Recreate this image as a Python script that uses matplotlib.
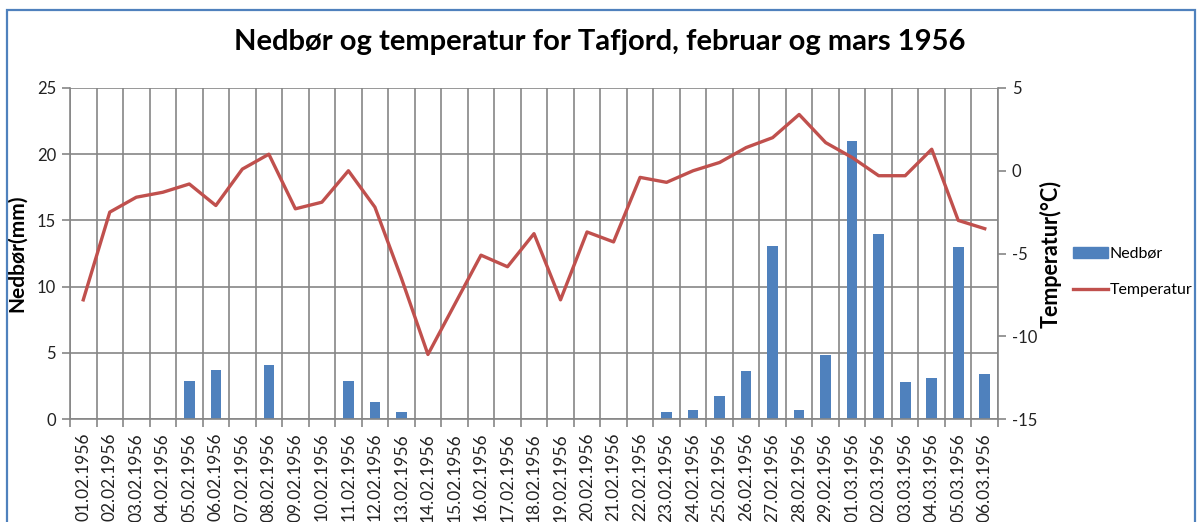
import matplotlib
matplotlib.use("Agg")
import matplotlib.pyplot as plt
import matplotlib.patches as mpatches
from matplotlib.lines import Line2D
import numpy as np

dates = ["01.02.1956", "02.02.1956", "03.02.1956", "04.02.1956", "05.02.1956",
         "06.02.1956", "07.02.1956", "08.02.1956", "09.02.1956", "10.02.1956",
         "11.02.1956", "12.02.1956", "13.02.1956", "14.02.1956", "15.02.1956",
         "16.02.1956", "17.02.1956", "18.02.1956", "19.02.1956", "20.02.1956",
         "21.02.1956", "22.02.1956", "23.02.1956", "24.02.1956", "25.02.1956",
         "26.02.1956", "27.02.1956", "28.02.1956", "29.02.1956", "01.03.1956",
         "02.03.1956", "03.03.1956", "04.03.1956", "05.03.1956", "06.03.1956"]

nedbor = [0, 0, 0, 0, 2.9, 3.7, 0, 4.1, 0, 0,
          2.9, 1.3, 0.5, 0, 0, 0, 0, 0, 0, 0,
          0, 0, 0.5, 0.7, 1.7, 3.6, 13.1, 0.7, 4.8, 21.0,
          14.0, 2.8, 3.1, 13.0, 3.4]

temperatur = [-7.8, -2.5, -1.6, -1.3, -0.8, -2.1, 0.1, 1.0, -2.3, -1.9,
              0.0, -2.2, -6.5, -11.1, -8.1, -5.1, -5.8, -3.8, -7.8, -3.7,
              -4.3, -0.4, -0.7, 0.0, 0.5, 1.4, 2.0, 3.4, 1.7, 0.8,
              -0.3, -0.3, 1.3, -3.0, -3.5]

title = "Nedbør og temperatur for Tafjord, februar og mars 1956"
bar_color = "#4F81BD"
line_color = "#C0504D"
grid_color = "#868686"
font = "Lato"

plt.rcParams['font.family'] = [font, 'DejaVu Sans']
plt.rcParams['axes.unicode_minus'] = False

fig = plt.figure(figsize=(11.97, 5.22), dpi=100)
fig.patch.set_facecolor("white")

# outer blue border
border = mpatches.Rectangle((7 / 1197, -0.1), (1195 - 7) / 1197, 1.1 - 10 / 522,
                            transform=fig.transFigure, fill=False,
                            edgecolor="#4F81BD", linewidth=1.6)
fig.patches.append(border)

ax = fig.add_axes([70 / 1197, 1 - 419 / 522, (998 - 70) / 1197, (419 - 88) / 522])
n = len(dates)
x = np.arange(n)
ax.bar(x, nedbor, width=0.4, color=bar_color, zorder=2)
ax.set_xlim(-0.5, n - 0.5)
ax.set_ylim(0, 25)
ax.set_yticks([0, 5, 10, 15, 20, 25])
ax.set_xticks(np.arange(n + 1) - 0.5)
ax.set_xticklabels([])
ax.set_xticks(x, minor=True)
ax.set_xticklabels(dates, minor=True, rotation=90, fontsize=12.5, color="#222222")
ax.tick_params(axis="x", which="minor", length=0, pad=10)
ax.tick_params(axis="x", which="major", length=6, color=grid_color, width=1.2)
ax.tick_params(axis="y", length=6, color=grid_color, width=1.2, labelsize=12,
               labelcolor="#222222", pad=4)
ax.grid(True, which="major", color=grid_color, linewidth=1.2, zorder=0)
ax.set_axisbelow(True)
for s in ["top", "right"]:
    ax.spines[s].set_visible(False)
for s in ["left", "bottom"]:
    ax.spines[s].set_color(grid_color)
    ax.spines[s].set_linewidth(1.2)
ax.set_ylabel("Nedbør(mm)", fontsize=15, fontweight="bold", labelpad=7)

ax2 = ax.twinx()
ax2.plot(x, temperatur, color=line_color, linewidth=2.4, zorder=3)
ax2.set_ylim(-15, 5)
ax2.set_yticks([-15, -10, -5, 0, 5])
ax2.tick_params(axis="y", length=6, color=grid_color, width=1.2, labelsize=12,
                labelcolor="#222222", pad=4)
for s in ["top", "left", "bottom"]:
    ax2.spines[s].set_visible(False)
ax2.spines["right"].set_color(grid_color)
ax2.spines["right"].set_linewidth(1.2)
ax2.set_ylabel("Temperatur(°C)", fontsize=15.5, fontweight="bold", labelpad=2)

fig.text(600 / 1197, 1 - 42 / 522, title, ha="center", va="center",
         fontsize=21, fontweight="bold", color="black")

handles = [mpatches.Patch(color=bar_color, label="Nedbør"),
           Line2D([0], [0], color=line_color, linewidth=2.4, label="Temperatur")]
fig.legend(handles=handles, loc="center left",
           bbox_to_anchor=(1062 / 1197, 1 - 272 / 522), frameon=False,
           fontsize=11.5, handlelength=2.2, handletextpad=0.1, labelspacing=1.4,
           borderpad=0.2)

fig.savefig("out.png", dpi=100)
